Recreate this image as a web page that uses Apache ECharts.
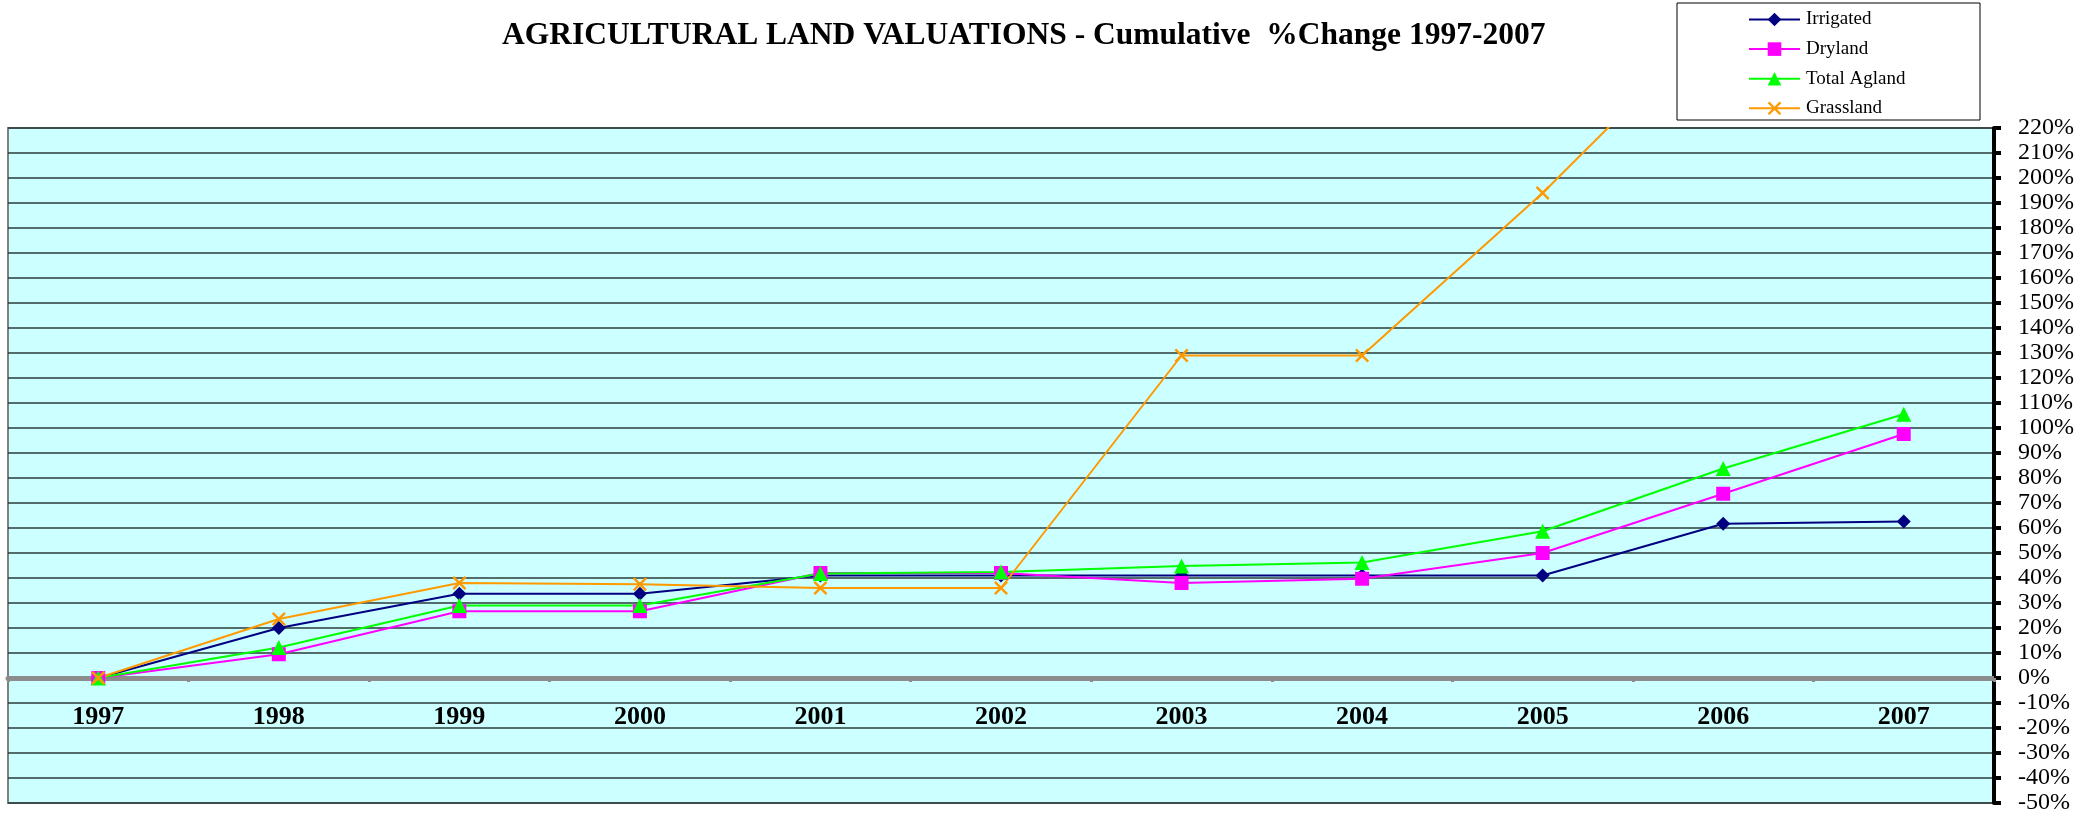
<!DOCTYPE html>
<html>
<head>
<meta charset="utf-8">
<script src="https://cdn.jsdelivr.net/npm/echarts@6/dist/echarts.min.js"></script>
<style>html,body{margin:0;padding:0;background:#fff}#c{width:2089px;height:818px}</style>
</head>
<body>
<div id="c"></div>
<script>
const years = ['1997','1998','1999','2000','2001','2002','2003','2004','2005','2006','2007'];
const irrigated = [0, 20, 33.7, 33.7, 41, 41, 41, 41, 41, 61.7, 62.6];
const dryland = [0, 9.5, 26.7, 26.7, 42, 42, 38, 39.7, 50, 73.7, 97.6];
const totalAgland = [0, 12.2, 29, 29, 41.8, 42.4, 44.8, 46.2, 58.7, 83.8, 105.5];
const grassland = [0, 23.6, 38, 37.5, 36, 36, 129, 129, 194, 266, 290];
const titleText = 'AGRICULTURAL LAND VALUATIONS - Cumulative  %Change 1997-2007';
const names = ['Irrigated', 'Dryland', 'Total Agland', 'Grassland'];

const serif = '"Liberation Serif","Times New Roman",serif';
const xPath = 'path://M0,1.2L1.2,0L5,3.8L8.8,0L10,1.2L6.2,5L10,8.8L8.8,10L5,6.2L1.2,10L0,8.8L3.8,5Z';

const Y_MIN = -50, Y_MAX = 220;
const GRID_TOP = 128, GRID_BOTTOM = 15, H = 818;
const plotH = H - GRID_TOP - GRID_BOTTOM;
const zeroOffset = -plotH * (0 - Y_MIN) / (Y_MAX - Y_MIN);

const chart = echarts.init(document.getElementById('c'));
function mk(name, data, color, symbol, size) {
  return {
    name: name, type: 'line', data: data, symbol: symbol, symbolSize: size,
    showSymbol: true, clip: true,
    lineStyle: { color: color, width: 2 },
    itemStyle: { color: color },
    emphasis: { disabled: true }
  };
}
chart.setOption({
  animation: false,
  backgroundColor: '#ffffff',
  title: {
    text: titleText, left: 497, top: 15,
    textStyle: { fontFamily: serif, fontWeight: 'bold', fontSize: 31.5, color: '#000' }
  },
  graphic: [{
    type: 'rect', shape: { x: 1677, y: 3, width: 303, height: 117 },
    style: { fill: '#fff', stroke: '#000', lineWidth: 1 }, z: -1
  }],
  legend: {
    data: names, orient: 'vertical', left: 1748, top: 10, padding: 0,
    itemWidth: 51, itemHeight: 17, itemGap: 10.6,
    textStyle: { fontFamily: serif, fontSize: 19, color: '#000', padding: [0, 0, 0, 1] }
  },
  grid: {
    left: 8, right: 95, top: GRID_TOP, bottom: GRID_BOTTOM, show: true, containLabel: false,
    outerBoundsMode: 'none',
    backgroundColor: '#ccffff', borderColor: '#808080', borderWidth: 2
  },
  xAxis: {
    type: 'category', data: years, boundaryGap: true,
    offset: zeroOffset,
    axisLine: { onZero: false, lineStyle: { color: '#8c8c8c', width: 5 } },
    axisTick: { show: true, length: 4, lineStyle: { color: '#8c8c8c', width: 3 } },
    axisLabel: { margin: 26, fontFamily: serif, fontWeight: 'bold', fontSize: 26, color: '#000' },
    splitLine: { show: false }
  },
  yAxis: {
    type: 'value', position: 'right', min: Y_MIN, max: Y_MAX, interval: 10,
    axisLine: { show: true, lineStyle: { color: '#000', width: 4 } },
    axisTick: { show: true, inside: false, length: 7, lineStyle: { color: '#000', width: 4 } },
    axisLabel: { margin: 24, formatter: '{value}%', fontFamily: serif, fontSize: 24, color: '#000',
                 showMinLabel: true, showMaxLabel: true, hideOverlap: false },
    splitLine: { show: true, lineStyle: { color: '#2a3a3a', width: 1.5 } }
  },
  series: [
    mk('Irrigated', irrigated, '#000080', 'diamond', 14),
    mk('Dryland', dryland, '#ff00ff', 'rect', 14),
    mk('Total Agland', totalAgland, '#00ff00', 'triangle', 15),
    mk('Grassland', grassland, '#ff9900', xPath, 14)
  ]
});
</script>
</body>
</html>
